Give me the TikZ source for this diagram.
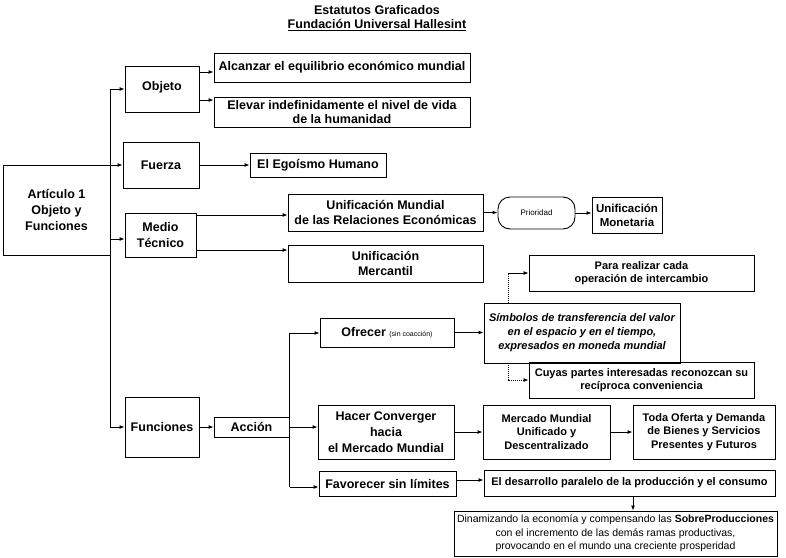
\documentclass[tikz,border=0pt]{standalone}
\usepackage{fontspec}
\setmainfont{Liberation Sans}
\usetikzlibrary{arrows.meta}
\tikzset{
  bx/.style={draw, line width=0.9pt, inner sep=1pt, align=center, font=\bfseries\fontsize{12.5}{15.5}\selectfont},
  sbx/.style={bx, font=\bfseries\fontsize{11}{13.5}\selectfont},
  ln/.style={line width=0.9pt},
  arr/.style={ln, -{Latex[length=5pt,width=4pt]}},
  dotln/.style={line width=0.7pt, dash pattern=on 1pt off 1pt},
  ttl/.style={font=\bfseries\fontsize{12.5}{15}\selectfont, inner sep=0pt}
}
\begin{document}
\begin{tikzpicture}[x=1pt,y=-1pt]
\useasboundingbox (0,0) rectangle (786,557);
% titles
\node[ttl] (t1) at (377,10) {Estatutos Graficados};
\node[ttl] (t2) at (377,25) {\underline{Fundación Universal Hallesint}};
% boxes
\node[bx, minimum width=107, minimum height=90, font=\bfseries\fontsize{12.5}{16}\selectfont] (art) at (56.5,210) {Artículo 1\\Objeto y\\Funciones};
\node[bx, minimum width=74, minimum height=46] (obj) at (162,89) {\raisebox{7pt}{Objeto}};
\node[bx, minimum width=256, minimum height=29] (alc) at (342,67.5) {Alcanzar el equilibrio económico mundial};
\node[bx, minimum width=256, minimum height=30, font=\bfseries\fontsize{12.5}{14}\selectfont] (elev) at (342,112) {Elevar indefinidamente el nivel de vida\\de la humanidad};
\node[bx, minimum width=76, minimum height=46] (fue) at (161,165) {Fuerza};
\node[bx, minimum width=136, minimum height=24] (ego) at (318,165) {El Egoísmo Humano};
\node[bx, minimum width=71, minimum height=44] (med) at (160.5,235) {Medio\\Técnico};
\node[bx, minimum width=195, minimum height=37] (um) at (385.5,212.5) {Unificación Mundial\\de las Relaciones Económicas};
\node[draw, line width=0.9pt, rounded corners=12pt, minimum width=77, minimum height=32, inner sep=0pt, font=\fontsize{8}{9}\selectfont] (pri) at (536.5,213) {Prioridad};
\node[bx, minimum width=70, minimum height=36, font=\bfseries\fontsize{11.5}{14}\selectfont] (mon) at (627,215) {Unificación\\Monetaria};
\node[bx, minimum width=195, minimum height=37] (merc) at (385.5,263.5) {Unificación\\Mercantil};
\node[sbx, minimum width=225, minimum height=36] (para) at (641.5,273) {Para realizar cada\\operación de intercambio};
\node[bx, minimum width=134, minimum height=29] (ofr) at (387,332.5) {Ofrecer {\mdseries\fontsize{7}{8}\selectfont (sin coacción)}};
\node[sbx, minimum width=196, minimum height=60, font=\bfseries\itshape\fontsize{11}{14}\selectfont] (sim) at (582,333) {Símbolos de transferencia del valor\\en el espacio y en el tiempo,\\expresados en moneda mundial};
\node[sbx, minimum width=225, minimum height=36] (cuy) at (641.5,380) {Cuyas partes interesadas reconozcan su\\recíproca conveniencia};
\node[bx, minimum width=74, minimum height=60] (fun) at (162,427) {Funciones};
\node[bx, minimum width=75, minimum height=20] (acc) at (251.5,427) {Acción};
\node[bx, minimum width=136, minimum height=54, font=\bfseries\fontsize{12.5}{16}\selectfont] (hac) at (386,432) {Hacer Converger\\hacia\\el Mercado Mundial};
\node[sbx, minimum width=127, minimum height=54] (mm) at (546.5,432) {Mercado Mundial\\Unificado y\\Descentralizado};
\node[sbx, minimum width=142, minimum height=54] (toda) at (704,432) {Toda Oferta y Demanda\\de Bienes y Servicios\\Presentes y Futuros};
\node[bx, minimum width=137, minimum height=25] (fav) at (387.5,483.5) {Favorecer sin límites};
\node[sbx, minimum width=291, minimum height=26] (des) at (629.5,483) {El desarrollo paralelo de la producción y el consumo};
\node[bx, minimum width=323, minimum height=45, font=\mdseries\fontsize{10.5}{13.5}\selectfont] (din) at (615.5,533.5) {Dinamizando la economía y compensando las \textbf{SobreProducciones}\\con el incremento de las demás ramas productivas,\\provocando en el mundo una creciente prosperidad};
% main spine
\coordinate (sptop) at (110,89);
\coordinate (spbot) at (110,427);
\draw[ln] (sptop) -- (spbot);
\draw[arr] (sptop) -- (obj.west |- sptop);
\draw[arr] (fue.west -| sptop) -- (fue.west);
\coordinate (medin) at (110,239);
\draw[arr] (medin) -- (med.west |- medin);
\draw[arr] (spbot) -- (fun.west |- spbot);
% objeto
\coordinate (oa) at (199,72);
\coordinate (oe) at (199,100);
\draw[arr] (oa) -- (alc.west |- oa);
\draw[arr] (oe) -- (elev.west |- oe);
% fuerza
\draw[arr] (fue.east) -- (ego.west |- fue.east);
% medio
\coordinate (mu) at (196,215);
\coordinate (mm2) at (196,250);
\draw[arr] (mu) -- (um.west |- mu);
\draw[arr] (mm2) -- (merc.west |- mm2);
\draw[arr] (um.east) -- (pri.west |- um.east);
\draw[arr] (pri.east) -- (mon.west |- pri.east);
% funciones
\draw[arr] (fun.east) -- (acc.west |- fun.east);
\coordinate (atop) at (289.5,333);
\coordinate (abot) at (289.5,487);
\draw[ln] (atop) -- (abot);
\draw[arr] (atop) -- (ofr.west |- atop);
\draw[arr] (acc.east) -- (hac.west |- acc.east);
\draw[arr] (abot) -- (fav.west |- abot);
\draw[arr] (ofr.east) -- (sim.west |- ofr.east);
% dotted branches
\coordinate (d1) at (508,273);
\coordinate (d2) at (508,380);
\draw[dotln] (sim.north -| d1) -- (d1);
\draw[arr] (d1) -- (para.west |- d1);
\draw[dotln] (sim.south -| d2) -- (d2) -- ([xshift=-5pt]cuy.west |- d2);
\draw[arr] ([xshift=-6pt]cuy.west |- d2) -- (cuy.west |- d2);
% converger
\draw[arr] (hac.east) -- (mm.west |- hac.east);
\draw[arr] (mm.east) -- (toda.west |- mm.east);
\coordinate (fd) at (456,480);
\draw[arr] (fd) -- (des.west |- fd);
\coordinate (dd) at (633,496);
\draw[arr] (dd) -- (din.north -| dd);
\end{tikzpicture}
\end{document}
